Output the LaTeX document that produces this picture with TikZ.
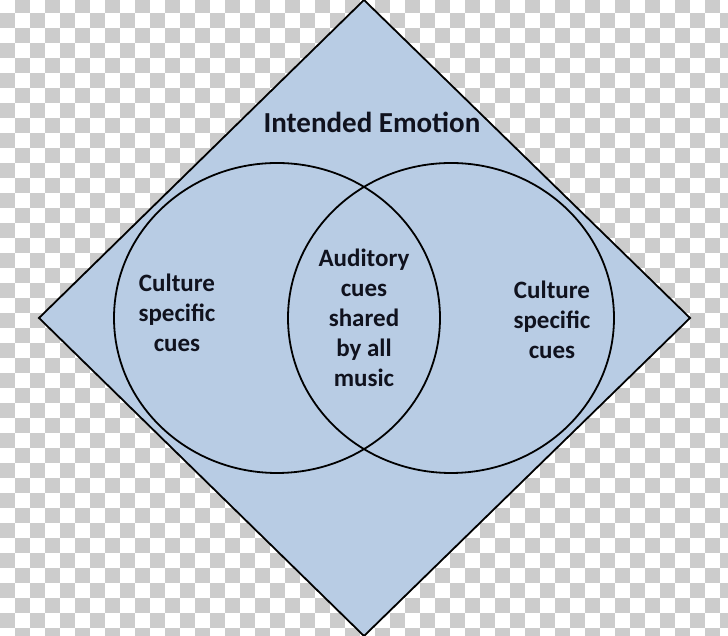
\documentclass[tikz,border=0pt]{standalone}
\usepackage{fontspec}
\setmainfont{Carlito}
\definecolor{checkgray}{RGB}{204,204,204}
\definecolor{diamondblue}{RGB}{184,204,228}
\definecolor{textdark}{RGB}{16,18,30}
\tikzset{
  outline/.style={line width=1.8pt, black},
  cuetext/.style={anchor=base, align=center, text=textdark,
    font=\fontsize{25}{30}\selectfont\bfseries}
}
\begin{document}
\begin{tikzpicture}[x=1pt,y=1pt]
                \useasboundingbox (0,0) rectangle (728,636);
                \fill[white] (0,0) rectangle (728,636);
                \begin{scope}
                \clip (0,0) rectangle (728,636);
                \foreach \i in {0,...,48} {
                  \foreach \j in {0,...,42} {
                    \pgfmathtruncatemacro{\odd}{mod(\i+\j,2)}
                    \ifnum\odd=1
                      \fill[checkgray] (15*\i,638-15*\j) rectangle ++(15,-15);
                    \fi
                  }
                }
                \end{scope}

                \coordinate (top) at (364,636);
                \coordinate (left) at (39,318);
                \coordinate (bottom) at (364,0);
                \coordinate (right) at (690,318);
                \draw[outline,fill=diamondblue,line join=miter]
                  (top) -- (left) -- (bottom) -- (right) -- cycle;

                \draw[outline] (277,318) ellipse [x radius=163, y radius=155];
                \draw[outline] (451,318) ellipse [x radius=163, y radius=155];

                % base anchor sits on the last line
                \node[anchor=base,text=textdark,font=\fontsize{29}{32}\selectfont\bfseries]
                  (title) at (372,503) {Intended Emotion};
                \node[cuetext] (leftcues) at (177,284) {Culture\\specific\\cues};
                \node[cuetext] (sharedcues) at (364,249) {Auditory\\cues\\shared\\by all\\music};
                \node[cuetext] (rightcues) at (552,277) {Culture\\specific\\cues};
            \end{tikzpicture}
\end{document}
